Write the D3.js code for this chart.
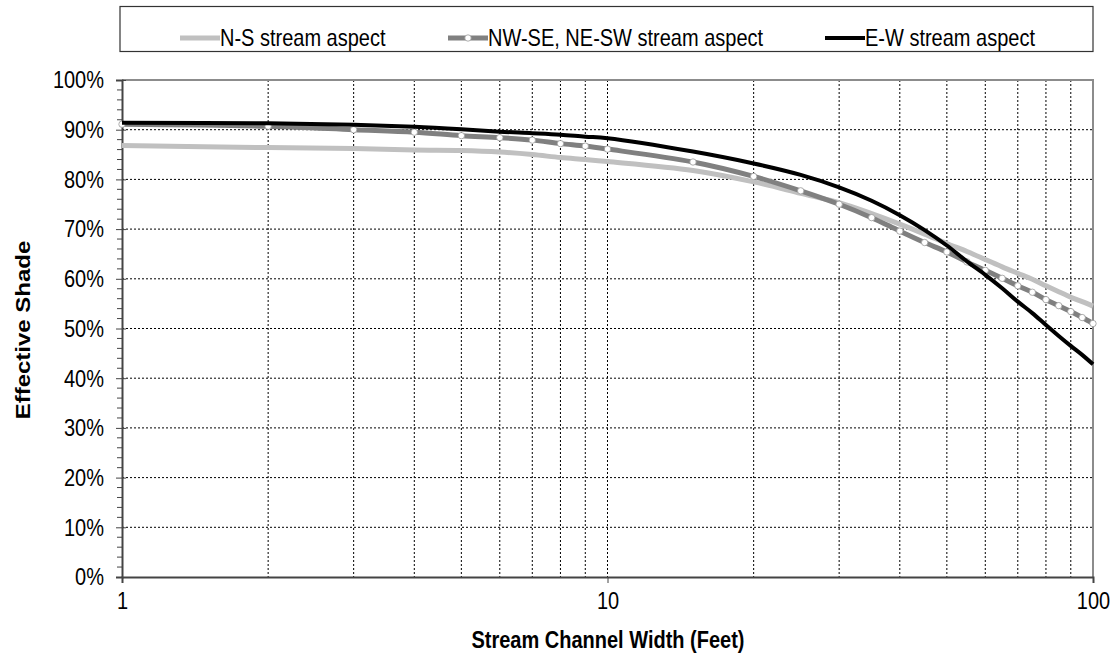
<!DOCTYPE html>
<html><head><meta charset="utf-8">
<script src="https://cdn.jsdelivr.net/npm/d3@7"></script>
<style>
body{margin:0;background:#fff;}
svg{display:block;font-family:"Liberation Sans",Arial,sans-serif;}
</style></head>
<body><svg id="c" width="1117" height="658"></svg>
<script>
const widths = [1,2,3,4,5,6,7,8,9,10,15,20,25,30,35,40,45,50,55,60,65,70,75,80,85,90,95,100];
const nsShade = [86.8,86.4,86.2,85.9,85.8,85.5,85.0,84.4,84.0,83.6,81.8,79.5,77.2,75.3,73.1,71.0,69.0,67.1,65.5,63.9,62.4,61.1,59.9,58.6,57.4,56.3,55.4,54.5];
const diagShade = [91.1,90.7,90.0,89.5,88.8,88.4,87.9,87.2,86.7,86.1,83.5,80.6,77.7,75.0,72.3,69.6,67.3,65.4,63.4,61.7,60.1,58.6,57.3,55.8,54.6,53.4,52.2,51.0];
const ewShade = [91.4,91.3,91.0,90.6,90.1,89.6,89.3,89.0,88.6,88.3,85.6,83.2,80.9,78.4,75.7,72.8,69.8,66.7,63.5,60.8,58.1,55.4,53.1,50.7,48.5,46.5,44.7,42.8];
const seriesNames = ["N-S stream aspect","NW-SE, NE-SW stream aspect","E-W stream aspect"];
const xTickLabels = [1,10,100];
const yTickValues = [0,10,20,30,40,50,60,70,80,90,100];

const K = 1.2; // vertical stretch of the reference's lettering
const svg = d3.select("#c");
const L=122, R=1093, T=80, B=577;
const x = d3.scaleLog().domain([1,100]).range([L,R]);
const y = d3.scaleLinear().domain([0,100]).range([B,T]);

// gridlines
const grid = svg.append("g");
const minorX = [];
for (let d=1; d<100; d*=10) for (let k=2;k<=10;k++) minorX.push(d*k);
grid.selectAll("line.vx").data(minorX.filter(v=>v<100)).join("line")
  .attr("x1",d=>x(d)).attr("x2",d=>x(d)).attr("y1",T).attr("y2",B)
  .attr("stroke","#000").attr("stroke-width",1).attr("stroke-dasharray","2,2");
grid.selectAll("line.hy").data(yTickValues.filter(v=>v>0&&v<100)).join("line")
  .attr("x1",L).attr("x2",R).attr("y1",d=>y(d)).attr("y2",d=>y(d))
  .attr("stroke","#000").attr("stroke-width",1).attr("stroke-dasharray","2,2");
svg.append("path").attr("d",`M${L},${T}H${R}V${B}`).attr("fill","none")
  .attr("stroke","#8c8c8c").attr("stroke-width",2);

// axes
const yAxis = d3.axisLeft(y).tickValues(yTickValues).tickFormat(d=>d+"%").tickSize(6).tickPadding(12);
const gy = svg.append("g").attr("transform",`translate(${L},0)`).call(yAxis);
gy.select(".domain").attr("stroke","#444").attr("stroke-width",2);
gy.selectAll(".tick line").attr("stroke","#444").attr("x2",-6).attr("x1",4);
gy.selectAll("text").attr("font-size",20).attr("fill","#000").attr("font-family","Liberation Sans, Arial");
const minorY = d3.range(0,101,2).filter(v=>v%10!==0);
gy.selectAll("line.mn").data(minorY).join("line").attr("class","mn")
  .attr("x1",-5).attr("x2",0).attr("y1",d=>y(d)).attr("y2",d=>y(d)).attr("stroke","#444");

const xAxis = d3.axisBottom(x).tickValues(xTickLabels).tickFormat(d3.format("d")).tickSize(6).tickPadding(10);
const gx = svg.append("g").attr("transform",`translate(0,${B})`).call(xAxis);
gx.select(".domain").attr("stroke","#444").attr("stroke-width",2);
gx.selectAll(".tick line").attr("stroke","#444");
gx.selectAll("text").attr("font-size",20).attr("fill","#000").attr("font-family","Liberation Sans, Arial");

// titles
svg.append("text").attr("class","st").attr("x",608).attr("y",647).attr("text-anchor","middle")
  .attr("font-size",20).attr("font-weight","bold").text("Stream Channel Width (Feet)");
svg.append("text").attr("transform",`translate(0,330) scale(1,${K}) translate(0,-330) translate(30,330) rotate(-90)`).attr("text-anchor","middle")
  .attr("font-size",20).attr("font-weight","bold").text("Effective Shade");

// series
const line = d3.line().x(d=>x(d[0])).y(d=>y(d[1])).curve(d3.curveCatmullRom.alpha(0.5));
const series = [
  {name:seriesNames[0], vals:nsShade, color:"#c0c0c0", w:5},
  {name:seriesNames[1], vals:diagShade, color:"#808080", w:5, markers:true},
  {name:seriesNames[2], vals:ewShade, color:"#000", w:4}
];
const plot = svg.append("g");
series.forEach(s=>{
  const pts = widths.map((w,i)=>[w,s.vals[i]]);
  plot.append("path").attr("d",line(pts)).attr("fill","none").attr("stroke",s.color)
    .attr("stroke-width",s.w).attr("stroke-linejoin","round");
  if (s.markers) {
    plot.selectAll(null).data(pts).join("circle").attr("cx",d=>x(d[0])).attr("cy",d=>y(d[1]))
      .attr("r",3.2).attr("fill","#fff").attr("stroke","#999").attr("stroke-width",0.8);
  }
});

// legend
const lg = svg.append("g");
lg.append("rect").attr("x",120).attr("y",6.5).attr("width",973).attr("height",45)
  .attr("fill","#fff").attr("stroke","#333").attr("stroke-width",1.2);
const legX = [180,448,825];
series.forEach((s,i)=>{
  const g = lg.append("g").attr("transform",`translate(${legX[i]},38)`);
  g.append("line").attr("x1",0).attr("x2",40).attr("stroke",s.color).attr("stroke-width",s.w);
  if (s.markers) g.append("circle").attr("cx",20).attr("r",3.2).attr("fill","#fff").attr("stroke","#999").attr("stroke-width",0.8);
  g.append("text").attr("class","st").attr("x",40).attr("y",7).attr("font-size",20).text(s.name);
});

// stretch lettering vertically about its own centre
svg.selectAll(".tick text, text.st").each(function(){
  const b = this.getBBox();
  const cy = b.y + b.height/2;
  d3.select(this).attr("transform",`translate(0,${cy}) scale(1,${K}) translate(0,${-cy})`);
});
</script></body></html>
